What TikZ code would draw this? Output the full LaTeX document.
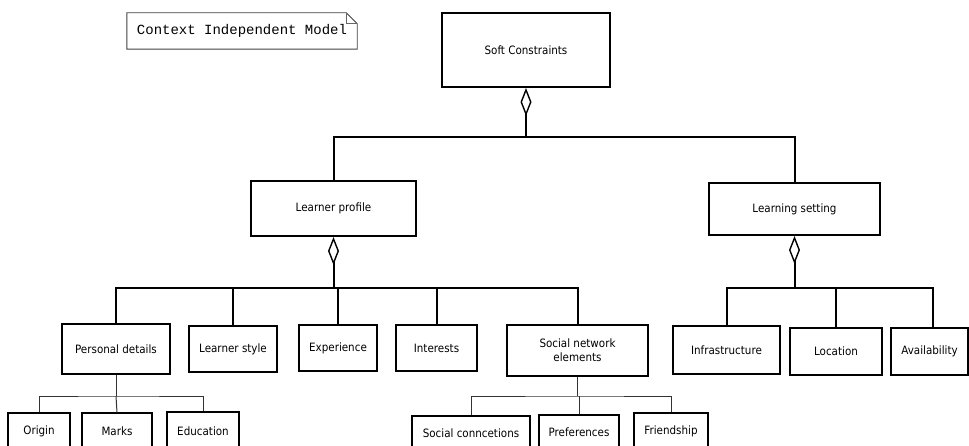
\documentclass[tikz,border=0pt]{standalone}
\usepackage{fontspec}
\setmainfont{DejaVu Sans}[FakeStretch=0.9]
\newfontfamily\notefont{Liberation Mono}
\usetikzlibrary{arrows.meta,calc}

\begin{document}
\begin{tikzpicture}[x=1pt,y=-1pt,
  box/.style={draw, rectangle, inner sep=0pt, align=center,
    font=\fontsize{11.5}{14}\selectfont, line width=1.2pt},
  topbox/.style={box, line width=2pt},
  leafbox/.style={box, line width=1.1pt},
  trunk/.style={line width=2pt},
  twig/.style={line width=1pt, draw=black!80},
  agg/.style={trunk, {Diamond[open,length=28pt,width=11pt,line width=1.4pt]}-},
]
\useasboundingbox (0,0) rectangle (969,446);
\clip (0,0) rectangle (969,446);

% levels of the connector bars
\coordinate (bar1) at (0,137);
\coordinate (bar2) at (0,288);
\coordinate (bar3) at (0,396);

% caption note with folded corner
\node[minimum width=230pt, minimum height=36pt, inner sep=0pt,
  font=\notefont\fontsize{14}{16}\selectfont] (note) at (242,31)
  {Context Independent Model};
\draw[line width=0.9pt, draw=black!75]
  (note.north west) -- ([xshift=-11pt]note.north east)
  -- ([yshift=-11pt]note.north east) -- (note.south east)
  -- (note.south west) -- cycle;
\draw[line width=0.6pt, draw=black!60]
  ([xshift=-11pt]note.north east) -- ([xshift=-11pt,yshift=-11pt]note.north east)
  -- ([yshift=-11pt]note.north east);

% top level
\node[topbox, minimum width=168pt, minimum height=74pt] (sc) at (526,50) {Soft Constraints};
\node[topbox, minimum width=165pt, minimum height=55pt] (lp) at (333.5,208.5) {Learner profile};
\node[topbox, minimum width=171pt, minimum height=52pt] (ls) at (794.5,209) {Learning setting};

% learner profile parts
\node[box, minimum width=108pt, minimum height=50pt] (pd) at (116,349) {Personal details};
\node[box, minimum width=88pt, minimum height=46pt] (lst) at (233,349) {Learner style};
\node[box, minimum width=78pt, minimum height=46pt] (ex) at (338,348) {Experience};
\node[box, minimum width=81pt, minimum height=46pt] (in) at (436.5,348) {Interests};
\node[box, minimum width=141pt, minimum height=51pt] (sn) at (577.5,350.5) {Social network\\elements};

% learning setting parts
\node[box, minimum width=107pt, minimum height=48pt] (inf) at (726.5,350) {Infrastructure};
\node[box, minimum width=92pt, minimum height=47pt] (loc) at (836,351.5) {Location};
\node[box, minimum width=77pt, minimum height=47pt] (av) at (929.5,351.5) {Availability};

% personal details parts
\node[leafbox, minimum width=62pt, minimum height=37pt] (or) at (39,431.5) {Origin};
\node[leafbox, minimum width=70pt, minimum height=37pt] (mk) at (117,431.5) {Marks};
\node[leafbox, minimum width=72pt, minimum height=38pt] (ed) at (203,431) {Education};

% social network parts
\node[leafbox, minimum width=118pt, minimum height=34pt] (scn) at (471,433) {Social conncetions};
\node[leafbox, minimum width=80pt, minimum height=35pt] (pr) at (579,432.5) {Preferences};
\node[leafbox, minimum width=74pt, minimum height=37pt] (fr) at (671,431.5) {Friendship};

% aggregation connectors
\draw[agg] (sc.south) -- (sc.south |- bar1) coordinate (j1);
\draw[trunk] (lp.north) |- (j1) -| (ls.north);

\draw[agg] (lp.south) -- (lp.south |- bar2) coordinate (j2);
\draw[trunk] (pd.north) |- (j2) -| (sn.north);
\draw[trunk] (j2 -| lst.north) -- (lst.north);
\draw[trunk] (j2 -| ex.north) -- (ex.north);
\draw[trunk] (j2 -| in.north) -- (in.north);

\coordinate (avtop) at ($(av.north west)!0.545!(av.north east)$);
\draw[agg] (ls.south) -- (ls.south |- bar2) coordinate (j3);
\draw[trunk] (inf.north) |- (j3) -| (avtop);
\draw[trunk] (j3 -| loc.north) -- (loc.north);

% plain tree connectors
\draw[twig] (pd.south) -- (pd.south |- bar3) coordinate (j4);
\draw[twig] (or.north) |- (j4) -| (ed.north);
\draw[twig] (j4) -- (mk.north);

\draw[twig] (sn.south) -- (sn.south |- bar3) coordinate (j5);
\draw[twig] (scn.north) |- (j5) -| (fr.north);
\draw[twig] (j5 -| pr.north) -- (pr.north);
\end{tikzpicture}
\end{document}
